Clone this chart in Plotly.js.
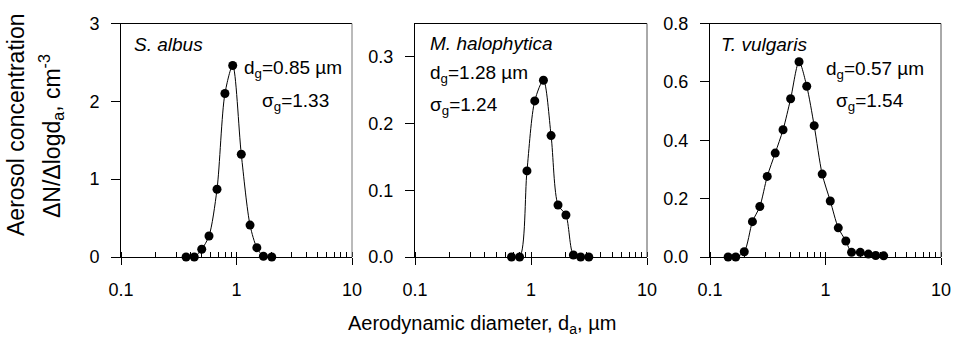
<!DOCTYPE html>
<html>
<head>
<meta charset="utf-8">
<script src="https://cdn.plot.ly/plotly-3.0.1.min.js"></script>
<style>html,body{margin:0;padding:0;background:#fff;}#chart{width:953px;height:342px;}</style>
</head>
<body>
<div id="chart"></div>
<script>
// S. albus
const albusD = [0.366, 0.431, 0.50, 0.578, 0.678, 0.794, 0.927, 1.10, 1.31, 1.50, 1.71, 2.02];
const albusN = [0.0, 0.0, 0.10, 0.27, 0.87, 2.10, 2.46, 1.32, 0.41, 0.12, 0.01, 0.0];
// M. halophytica
const haloD = [0.679, 0.798, 0.923, 1.077, 1.28, 1.49, 1.71, 2.00, 2.32, 2.68, 3.15];
const haloN = [0.0, 0.0, 0.129, 0.234, 0.265, 0.182, 0.078, 0.063, 0.003, 0.0, 0.0];
// T. vulgaris
const vulgD = [0.1435, 0.167, 0.198, 0.233, 0.270, 0.313, 0.367, 0.429, 0.499, 0.590, 0.688, 0.798, 0.936, 1.10, 1.29, 1.50, 1.68, 2.00, 2.35, 2.72, 3.19];
const vulgN = [0.0, 0.0, 0.018, 0.121, 0.173, 0.276, 0.356, 0.436, 0.542, 0.669, 0.585, 0.450, 0.284, 0.192, 0.100, 0.055, 0.016, 0.016, 0.010, 0.005, 0.004];

const species = ['S. albus', 'M. halophytica', 'T. vulgaris'];
const dgText = ['d<sub>g</sub>=0.85 \u00b5m', 'd<sub>g</sub>=1.28 \u00b5m', 'd<sub>g</sub>=0.57 \u00b5m'];
const sgText = ['\u03c3<sub>g</sub>=1.33', '\u03c3<sub>g</sub>=1.24', '\u03c3<sub>g</sub>=1.54'];
const xTickVals = [0.1, 1, 10];
const xTickText = ['0.1', '1', '10'];

const FONT = 'Liberation Sans, Arial, Helvetica, sans-serif';
const W = 953, H = 342;
const px = v => v / W;
const py = v => 1 - v / H;

function trace(x, y, i) {
  const s = i === 0 ? '' : String(i + 1);
  return {
    x: x, y: y, xaxis: 'x' + s, yaxis: 'y' + s,
    type: 'scatter', mode: 'lines+markers', cliponaxis: false,
    line: {color: '#000', width: 1, shape: 'spline', smoothing: 0.8},
    marker: {color: '#000', size: 9, symbol: 'circle'},
    showlegend: false, hoverinfo: 'skip'
  };
}

function xax(d0, d1, anchor) {
  return {
    type: 'log', domain: [px(d0), px(d1)], range: [-1, 1], anchor: anchor,
    tickvals: xTickVals, ticktext: xTickText,
    ticks: 'outside', ticklen: 7, tickcolor: '#000', tickwidth: 1,
    minor: {dtick: 'D1', ticks: 'inside', ticklen: 5, tickcolor: '#000', tickwidth: 1, showgrid: false},
    showline: true, linecolor: '#000', linewidth: 1, mirror: true,
    showgrid: false, zeroline: false,
    tickfont: {family: FONT, size: 18, color: '#000'}, ticklabelstandoff: 9
  };
}
function yax(range, dtick, fmt, anchor) {
  return {
    domain: [py(257), py(23.5)], range: range, anchor: anchor,
    dtick: dtick, tick0: 0, tickformat: fmt,
    ticks: 'outside', ticklen: 9, tickcolor: '#000', tickwidth: 1,
    showline: true, linecolor: '#000', linewidth: 1, mirror: false,
    showgrid: false, zeroline: false,
    tickfont: {family: FONT, size: 18, color: '#000'}, ticklabelstandoff: 8
  };
}

const data = [trace(albusD, albusN, 0), trace(haloD, haloN, 1), trace(vulgD, vulgN, 2)];

const annFont = {family: FONT, size: 19, color: '#000'};
function ann(text, x, y, extra) {
  return Object.assign({text: text, xref: 'paper', yref: 'paper', x: px(x), y: py(y),
    xanchor: 'left', yanchor: 'middle', showarrow: false, font: annFont}, extra || {});
}

const annotations = [
  ann('<i>' + species[0] + '</i>', 132, 45),
  ann(dgText[0], 242, 69),
  ann(sgText[0], 260, 102),
  ann('<i>' + species[1] + '</i>', 428, 43),
  ann(dgText[1], 428, 74),
  ann(sgText[1], 428, 106),
  ann('<i>' + species[2] + '</i>', 719, 45),
  ann(dgText[2], 824, 70),
  ann(sgText[2], 834, 102),
  ann('Aerodynamic diameter, d<sub>a</sub>, \u00b5m', 482, 324, {xanchor: 'center', font: {family: FONT, size: 20, color: '#000'}}),
  ann('Aerosol concentration', 16, 125, {xanchor: 'center', textangle: -90, font: {family: FONT, size: 23, color: '#000'}}),
  ann('\u0394N/\u0394logd<sub>a</sub>, cm<sup>-3</sup>', 51, 136, {xanchor: 'center', textangle: -90, font: {family: FONT, size: 23, color: '#000'}})
];

const layout = {
  width: W, height: H,
  margin: {l: 0, r: 0, t: 0, b: 0, pad: 0},
  paper_bgcolor: '#fff', plot_bgcolor: '#fff',
  showlegend: false,
  xaxis: xax(121, 352, 'y'),
  yaxis: yax([0, 3], 1, 'd', 'x'),
  xaxis2: xax(415, 647, 'y2'),
  yaxis2: yax([0, 0.35], 0.1, '.1f', 'x2'),
  xaxis3: xax(710, 941, 'y3'),
  yaxis3: yax([0, 0.8], 0.2, '.1f', 'x3'),
  shapes: [
    {type: 'line', xref: 'x domain', yref: 'y domain', x0: 1, x1: 1, y0: 0, y1: 1, line: {color: '#777', width: 1}},
    {type: 'line', xref: 'x2 domain', yref: 'y2 domain', x0: 1, x1: 1, y0: 0, y1: 1, line: {color: '#555', width: 1}},
    {type: 'line', xref: 'x3 domain', yref: 'y3 domain', x0: 1, x1: 1, y0: 0, y1: 1, line: {color: '#555', width: 1}}
  ],
  annotations: annotations,
  font: {family: FONT, color: '#000'}
};

Plotly.newPlot('chart', data, layout, {staticPlot: true, displayModeBar: false});
</script>
</body>
</html>
